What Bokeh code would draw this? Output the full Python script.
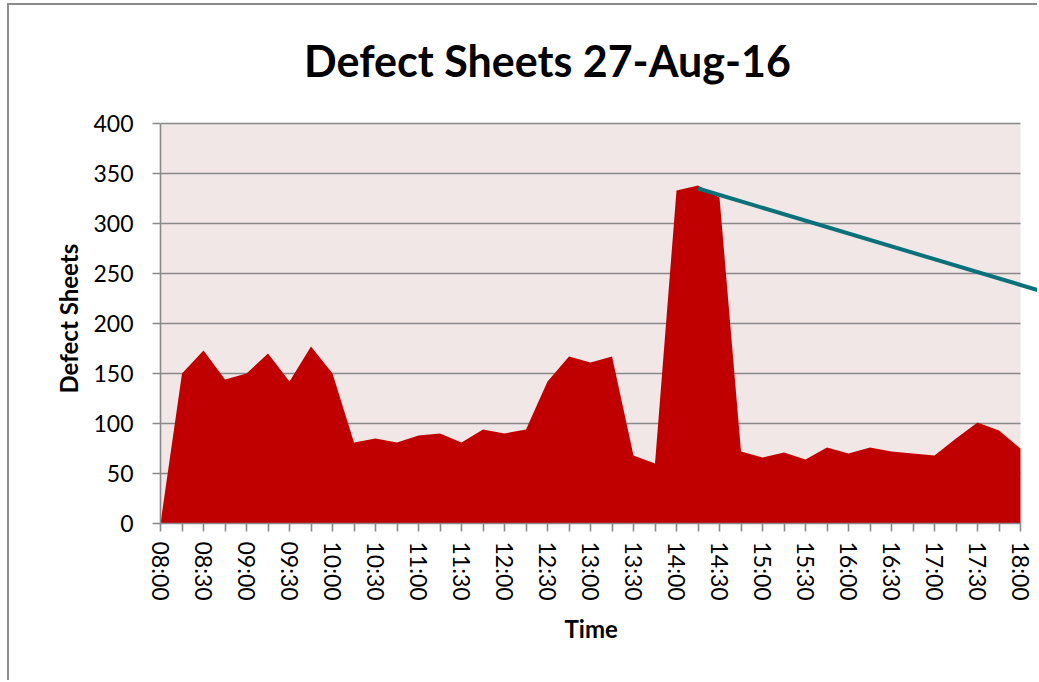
from bokeh.plotting import figure
from bokeh.models import Range1d, FixedTicker, Label, Title
from bokeh.embed import file_html
from bokeh.resources import INLINE

# ---- data ----
times = ["08:00", "08:15", "08:30", "08:45", "09:00", "09:15", "09:30", "09:45",
         "10:00", "10:15", "10:30", "10:45", "11:00", "11:15", "11:30", "11:45",
         "12:00", "12:15", "12:30", "12:45", "13:00", "13:15", "13:30", "13:45",
         "14:00", "14:15", "14:30", "14:45", "15:00", "15:15", "15:30", "15:45",
         "16:00", "16:15", "16:30", "16:45", "17:00", "17:15", "17:30", "17:45",
         "18:00"]
defects = [0, 150, 173, 144, 150, 170, 142, 177,
           150, 81, 85, 81, 88, 90, 81, 94,
           90, 94, 142, 167, 161, 167, 68, 60,
           333, 338, 326, 72, 66, 71, 64, 76,
           70, 76, 72, 70, 68, 85, 101, 93,
           75]
trend_times = ["14:15", "18:20"]
trend_values = [335, 230]
y_ticks = [0, 50, 100, 150, 200, 250, 300, 350, 400]
title_text = "Defect Sheets 27-Aug-16"
x_title = "Time"
y_title = "Defect Sheets"


def to_min(t):
    h, m = t.split(":")
    return (int(h) - 8) * 60 + int(m)


xs = [to_min(t) for t in times]
label_ticks = [to_min(t) for t in times if t.endswith(":00") or t.endswith(":30")]
minor = [x for x in xs if x not in label_ticks]

FONT = "Lato"
GRAY = "#898989"
PLOT_PX = 860      # pixel width of the Excel plot area (08:00..18:00)
FRAME_PX = 879     # frame runs on to the right edge so the trend line can leave the plot area
TOP_PX = 118       # frame also runs up over the title area

p = figure(width=1030, height=677, output_backend="svg", toolbar_location=None,
           x_range=Range1d(xs[0], xs[-1] * FRAME_PX / PLOT_PX),
           y_range=Range1d(y_ticks[0], y_ticks[-1] + TOP_PX),
           min_border_left=151, min_border_right=0, min_border_top=0,
           min_border_bottom=159)
p.margin = (3, 0, 0, 7)
p.styles = {"border-left": "2px solid #8c8c8c", "border-top": "2px solid #8c8c8c"}
p.background_fill_color = "white"
p.border_fill_color = "white"
p.outline_line_color = None

# plot area background and gridlines (limited to 08:00..18:00)
p.quad(left=xs[0], right=xs[-1], bottom=y_ticks[0], top=y_ticks[-1],
       fill_color="#f2e7e7", line_color=None)
p.segment(x0=[xs[0]] * len(y_ticks), x1=[xs[-1]] * len(y_ticks), y0=y_ticks, y1=y_ticks,
          line_color=GRAY, line_width=1.6)
p.xgrid.grid_line_color = None
p.ygrid.grid_line_color = None

p.varea(x=xs, y1=[0] * len(xs), y2=defects, fill_color="#c00000")

# trend line
p.line(x=[to_min(t) for t in trend_times], y=trend_values, line_color="#0a707a", line_width=4)

# axes
xa = p.xaxis[0]
xa.ticker = FixedTicker(ticks=label_ticks, minor_ticks=minor)
xa.major_label_overrides = {to_min(t): t for t in times if to_min(t) in label_ticks}
xa.major_label_orientation = "vertical"
xa.bounds = (xs[0], xs[-1])
for ax in (p.xaxis[0], p.yaxis[0]):
    ax.axis_line_color = GRAY
    ax.axis_line_width = 1.6
    ax.major_tick_line_color = GRAY
    ax.major_tick_line_width = 1.6
    ax.minor_tick_line_color = GRAY
    ax.minor_tick_line_width = 1.6
    ax.major_tick_in = 0
    ax.major_tick_out = 8
    ax.minor_tick_in = 0
    ax.minor_tick_out = 8
    ax.major_label_text_font = FONT
    ax.major_label_text_font_size = "23px"
    ax.major_label_text_color = "black"
xa.major_label_standoff = 10

ya = p.yaxis[0]
ya.ticker = FixedTicker(ticks=y_ticks)
ya.bounds = (y_ticks[0], y_ticks[-1])
ya.minor_tick_out = 0
ya.major_label_standoff = 19

# axis titles, centred on the Excel plot area
p.add_layout(Title(text=y_title, align="left", offset=130, vertical_align="bottom",
                   standoff=16, text_font=FONT, text_font_style="bold",
                   text_font_size="24px", text_color="black"), "left")
p.add_layout(Title(text=x_title, align="left", offset=404, vertical_align="top",
                   standoff=21, text_font=FONT, text_font_style="bold",
                   text_font_size="24px", text_color="black"), "below")

# chart title
p.add_layout(Label(x=to_min("12:30"), y=463, text=title_text,
                   text_align="center", text_baseline="alphabetic",
                   text_font=FONT, text_font_style="bold",
                   text_font_size="43px", text_color="black"))

open("out.html", "w").write(file_html(p, INLINE))
